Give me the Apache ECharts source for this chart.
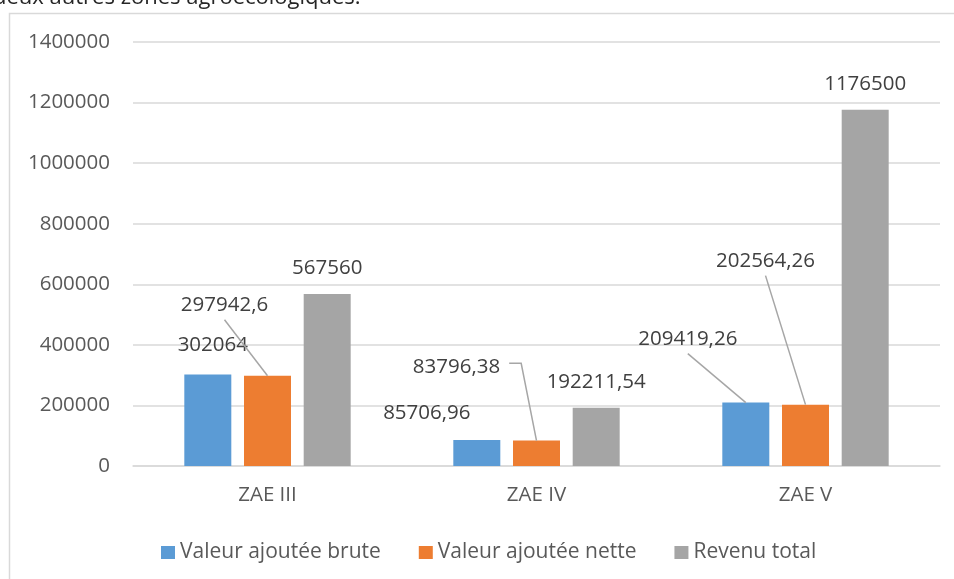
<!DOCTYPE html>
<html>
<head>
<meta charset="utf-8">
<script src="https://cdn.jsdelivr.net/npm/echarts@6/dist/echarts.min.js"></script>
<style>
  html, body { margin: 0; padding: 0; background: #ffffff; }
  #chart { width: 954px; height: 579px; }
</style>
</head>
<body>
<div id="chart"></div>
<script>
// Zones agroécologiques
const categories = ['ZAE III', 'ZAE IV', 'ZAE V'];

// Valeurs par zone
const valeurAjouteeBrute = [302064, 85706.96, 209419.26];
const valeurAjouteeNette = [297942.6, 83796.38, 202564.26];
const revenuTotal = [567560, 192211.54, 1176500];

const seriesNames = ['Valeur ajoutée brute', 'Valeur ajoutée nette', 'Revenu total'];
const seriesColors = ['#5B9BD5', '#ED7D31', '#A5A5A5'];

// Axe des ordonnées
const yMin = 0;
const yMax = 1400000;
const yStep = 200000;

// Décalage des étiquettes (px, par rapport au haut de la barre) et lignes de rappel
const labelShift = [
  [[5, -14], [-43, -55], [0, -10]],
  [[-50, -11], [-80, -58], [0, -10]],
  [[-58, -48], [-40, -128], [0, -10]]
];
// leader: null = aucune, 'below' = depuis le bas du texte, 'right' = depuis la droite
const leaderKind = [
  [null, 'below', null],
  [null, 'right', null],
  ['below', 'below', null]
];

const LABEL_FONT = 20.5;
const LABEL_DIST = 5;

function fmt(v) {
  return String(v).replace('.', ',');
}

const seriesData = [valeurAjouteeBrute, valeurAjouteeNette, revenuTotal];

const chart = echarts.init(document.getElementById('chart'), null, { renderer: 'canvas' });

const series = seriesData.map((vals, s) => ({
  name: seriesNames[s],
  type: 'bar',
  barWidth: 47,
  barGap: '27%',
  itemStyle: { color: seriesColors[s] },
  data: vals.map((v, c) => ({
    value: v,
    label: { offset: labelShift[c][s] }
  })),
  label: {
    show: true,
    position: 'top',
    distance: LABEL_DIST,
    color: '#404040',
    fontFamily: 'Open Sans',
    fontSize: LABEL_FONT,
    formatter: p => fmt(p.value)
  }
}));

chart.setOption({
  animation: false,
  textStyle: { fontFamily: 'Open Sans' },
  grid: { left: 133, right: 14, top: 42, bottom: 113, containLabel: false },
  legend: {
    top: 537,
    left: 156,
    itemWidth: 14,
    itemHeight: 13,
    itemGap: 38,
    icon: 'rect',
    textStyle: { color: '#595959', fontSize: 21, fontFamily: 'Open Sans' },
    data: seriesNames
  },
  xAxis: {
    type: 'category',
    data: categories,
    axisLine: { lineStyle: { color: '#d9d9d9', width: 1.5 } },
    axisTick: { show: false },
    axisLabel: { color: '#595959', fontSize: 20.5, margin: 19, fontFamily: 'Open Sans' }
  },
  yAxis: {
    type: 'value',
    min: yMin,
    max: yMax,
    interval: yStep,
    axisLine: { show: false },
    axisTick: { show: false },
    splitLine: { lineStyle: { color: '#d9d9d9', width: 1.5 } },
    axisLabel: {
      color: '#595959', fontSize: 20.5, margin: 23, fontFamily: 'Open Sans',
      formatter: v => String(v)
    }
  },
  series: series
});

// Cadre, texte d'en-tête et lignes de rappel
function drawExtras() {
  const elements = [
    {
      type: 'rect',
      shape: { x: 9.5, y: 13.5, width: 1000, height: 700 },
      style: { fill: null, stroke: '#d9d9d9', lineWidth: 1.5 },
      silent: true, z: -1
    },
    {
      type: 'text',
      x: -7, y: 9,
      style: {
        text: 'deux autres zones agroécologiques.',
        fill: '#262626',
        font: '22px "Open Sans"',
        textVerticalAlign: 'bottom'
      },
      silent: true
    }
  ];
  const model = chart.getModel();
  seriesData.forEach((vals, s) => {
    const data = model.getSeriesByIndex(s).getData();
    vals.forEach((v, c) => {
      const kind = leaderKind[c][s];
      if (!kind) return;
      const lay = data.getItemLayout(c);
      const bx = lay.x + lay.width / 2;
      const by = lay.y + Math.min(lay.height, 0);
      const off = labelShift[c][s];
      const cx = bx + off[0];
      const textBottom = by - LABEL_DIST + off[1];
      const cy = textBottom - LABEL_FONT * 0.7;
      let pts;
      if (kind === 'below') {
        pts = [[cx, textBottom + 4], [bx, by]];
      } else {
        const w = echarts.format.getTextRect
          ? echarts.format.getTextRect(fmt(v), LABEL_FONT + 'px "Open Sans"').width
          : fmt(v).length * 11.6;
        const rx = cx + w / 2 + 9;
        pts = [[rx, cy], [rx + 12, cy], [bx, by]];
      }
      elements.push({
        type: 'polyline',
        shape: { points: pts },
        style: { stroke: '#a6a6a6', lineWidth: 1.5, fill: null },
        silent: true, z: 10
      });
    });
  });
  chart.setOption({ graphic: { elements: elements } });
}
drawExtras();
</script>
</body>
</html>
